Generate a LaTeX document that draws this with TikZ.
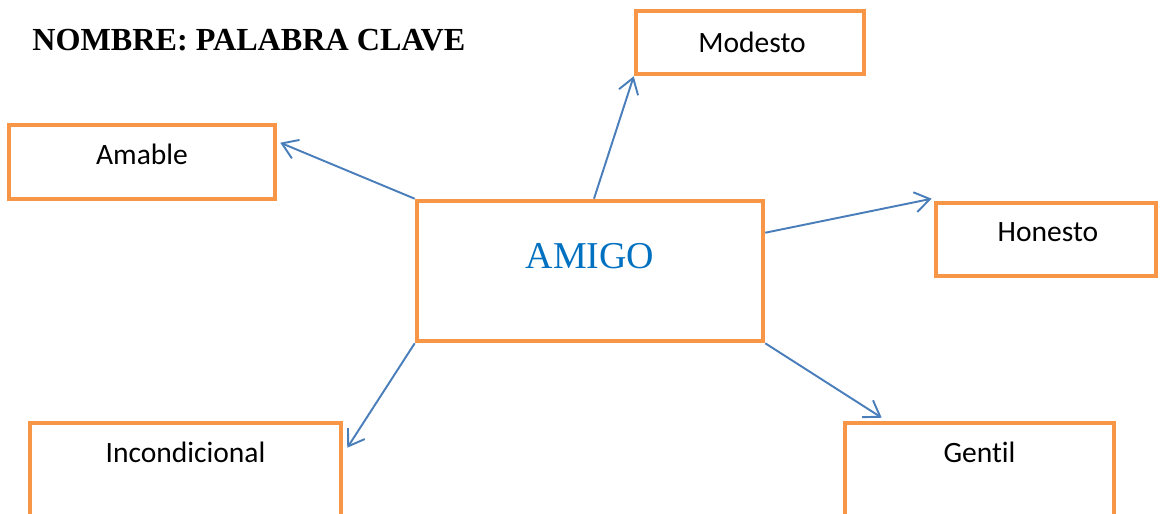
\documentclass[tikz,border=0pt]{standalone}
\usepackage{fontspec}
\setmainfont{Liberation Serif}
\newfontfamily\boxfont[Ligatures=NoCommon]{Carlito}
\usetikzlibrary{arrows.meta,fit,calc}
\definecolor{boxorange}{HTML}{F79646}
\definecolor{linkblue}{HTML}{4A7EBB}
\definecolor{wordblue}{HTML}{0070C0}
\tikzset{
  box/.style={draw=boxorange,line width=2.6pt,inner sep=0pt},
  word/.style={anchor=base,inner sep=0pt,font=\boxfont\fontsize{16.8}{20}\selectfont},
  link/.style={draw=linkblue,line width=1.1pt,-{Straight Barb[length=0.3cm,width=0.4cm]}}
}
\begin{document}
\begin{tikzpicture}[x=0.02cm,y=-0.02cm]
\useasboundingbox (0,0) rectangle (1161,514);
\clip (0,0) rectangle (1161,514);
\node[anchor=base west,inner sep=0pt,font=\bfseries\fontsize{18.3}{22}\selectfont] (title) at (32,50) {NOMBRE: PALABRA CLAVE};
% boxes
\node[box,fit={(417,201) (763,341)}] (amigo) {};
\node[box,fit={(636,11) (864,74)}] (modesto) {};
\node[box,fit={(9,125) (275,199)}] (amable) {};
\node[box,fit={(936,203) (1156,276)}] (honesto) {};
\node[box,fit={(845,423) (1114,560)}] (gentil) {};
\node[box,fit={(30,423) (341,560)}] (incond) {};
% texts
\node[anchor=base,inner sep=0pt,text=wordblue,font=\fontsize{21.6}{26}\selectfont] (amigo-t) at ($(amigo.north)+(0,70)$) {AMIGO};
\node[word] (modesto-t) at ($(modesto.north)+(2,44)$) {Modesto};
\node[word] (amable-t) at ($(amable.north)+(0,42)$) {Amable};
\node[word] (honesto-t) at ($(honesto.north)+(2,41)$) {Honesto};
\node[word] (gentil-t) at ($(gentil.north)+(0,42)$) {Gentil};
\node[word] (incond-t) at ($(incond.north)+(0,42)$) {Incondicional};
% links
\draw[link] (amigo.north west) -- ($(amable.north east)+(3,20)$);
\draw[link] ($(amigo.north)+(4,0)$) -- (modesto.south west);
\draw[link] ($(amigo.north east)+(0,34)$) -- ($(honesto.north west)+(-2,-2)$);
\draw[link] (amigo.south east) -- ($(gentil.north west)+(39,-3)$);
\draw[link] (amigo.south west) -- ($(incond.north east)+(4,27)$);
\end{tikzpicture}
\end{document}
